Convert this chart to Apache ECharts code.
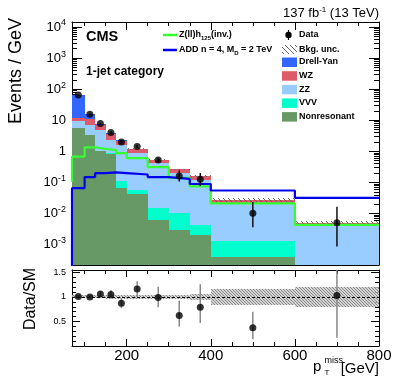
<!DOCTYPE html>
<html><head><meta charset="utf-8">
<script src="https://cdn.jsdelivr.net/npm/echarts@6/dist/echarts.min.js"></script>
<style>html,body{margin:0;padding:0;background:#fff}#c{width:399px;height:379px}</style>
</head><body><div id="c"></div>
<script>
// ---------------- data ----------------
const binEdges    = [70,100,125,150,175,200,250,300,350,400,600,800];
const dataVals    = [64.5,15.6,7.8,4.0,2.0,1.42,0.53,0.162,0.126,0.0102,0.0050];
const dataLo      = [62.5,14.8,7.3,3.6,1.75,1.25,0.45,0.107,0.076,0.0036,0.00087];
const dataHi      = [66.5,16.4,8.3,4.4,2.3,1.6,0.62,0.245,0.200,0.0234,0.0166];
const nonresonant = [5.8,3.4,1.0,0.85,0.065,0.043,0.0062,0.0029,0.0020,0.0004,0.00001];
const vvv         = [0.03,0.03,0.03,0.03,0.042,0.015,0.0086,0.0074,0.0023,0.00086,0.0001];
const zz          = [3.97,3.67,3.77,1.52,1.49,0.85,0.405,0.19,0.111,0.0201,0.0042];
const wz          = [1.8,3.6,2.2,1.2,0.6,0.29,0.11,0.06,0.04,0.0056,0.0005];
const drellYan    = [52.4,4.9,0.4,0.2,0.1,0.02,0.005,0.002,0.005,0.0006,0.0001];
const bkgRelUnc   = [0.03,0.03,0.03,0.035,0.035,0.04,0.045,0.05,0.06,0.155,0.21];
const zhSignal    = [0.68,1.35,1.2,1.1,0.87,0.60,0.31,0.14,0.074,0.021,0.0043];
const zhUnderflow = 0.105;
const addSignal   = [0.065,0.148,0.20,0.21,0.20,0.18,0.148,0.13,0.089,0.055,0.032];
const addUnderflow = 0.00001;
const ratioVals   = [1.01,1.00,1.06,1.05,0.87,1.16,0.99,0.62,0.79,0.37,1.03];
const ratioLo     = [0.99,0.97,1.01,0.97,0.77,1.00,0.79,0.40,0.47,0.14,0.17];
const ratioHi     = [1.03,1.03,1.11,1.14,0.97,1.32,1.21,0.93,1.26,0.70,1.90];
const xTickLabels = [200,400,600,800];
const xMajorTicks = [200,400,600];
const xMinorTicks = [100,150,250,300,350,450,500,550,650,700,750];
const ratioLabels = [0.5,1,1.5];
const ratioMajor  = [0,0.5,1,1.5];

// ---------------- setup ----------------
const F = 'Liberation Sans, Arial, Helvetica, sans-serif';
const yMin = 2.2e-4, yMax = 1.45e4;
const N = dataVals.length;
const centers = binEdges.slice(0,-1).map((e,i)=>(e+binEdges[i+1])/2);

function makePattern(size, color, lw, bg){
  const c = document.createElement('canvas'); c.width = size; c.height = size;
  const ctx = c.getContext('2d');
  if (bg){ ctx.fillStyle = bg; ctx.fillRect(0,0,size,size); }
  ctx.strokeStyle = color; ctx.lineWidth = lw;
  ctx.beginPath();
  for (let k=-1;k<=1;k++){ ctx.moveTo(k*size,0); ctx.lineTo(k*size+size,size); }
  ctx.stroke();
  return {image:c, repeat:'repeat'};
}
const hatchMain = makePattern(5,'rgba(90,90,90,0.9)',1);
const hatchRatio = makePattern(3,'rgba(130,130,130,0.9)',1,'rgba(200,200,200,0.8)');

function clipRect(cs){ return {x:cs.x,y:cs.y,width:cs.width,height:cs.height}; }
function makeBoxes(name, rows, fill, xi, yi, z){
  return {type:'custom', name, xAxisIndex:xi, yAxisIndex:yi, z:z, silent:true, animation:false,
    data: rows, encode:{x:[0,1], y:[2,3]},
    renderItem(params, api){
      const a = api.coord([api.value(0), api.value(3)]);
      const b = api.coord([api.value(1), api.value(2)]);
      const x0 = Math.round(Math.min(a[0],b[0])), x1 = Math.round(Math.max(a[0],b[0]));
      const y0 = Math.round(Math.min(a[1],b[1])), y1 = Math.round(Math.max(a[1],b[1]));
      const shape = echarts.graphic.clipRectByRect({x:x0,y:y0,width:x1-x0,height:y1-y0}, clipRect(params.coordSys));
      if (!shape || shape.height <= 0) return null;
      return {type:'rect', shape, style:{fill}};
    }};
}
function makeErr(name, rows, color, width, xi, yi, z){
  return {type:'custom', name, xAxisIndex:xi, yAxisIndex:yi, z:z, silent:true, animation:false,
    data: rows, encode:{x:0, y:[1,2]},
    renderItem(params, api){
      const p1 = api.coord([api.value(0), api.value(1)]);
      const p2 = api.coord([api.value(0), api.value(2)]);
      const pts = echarts.graphic.clipPointsByRect([p1,p2], clipRect(params.coordSys));
      return {type:'line', shape:{x1:pts[0][0],y1:pts[0][1],x2:pts[1][0],y2:pts[1][1]}, style:{stroke:color, lineWidth:width}};
    }};
}

const stackDef = [
  {name:'Nonresonant', vals:nonresonant, color:'#669966'},
  {name:'VVV', vals:vvv, color:'#00ffcc'},
  {name:'ZZ', vals:zz, color:'#99ccff'},
  {name:'WZ', vals:wz, color:'#de5a6a'},
  {name:'Drell-Yan', vals:drellYan, color:'#3366ff'}
];
const cum = new Array(N).fill(0);
const series = [];
stackDef.forEach((c,k)=>{
  const rows = [];
  for (let i=0;i<N;i++){
    const lo = cum[i], hi = cum[i] + c.vals[i];
    rows.push([binEdges[i], binEdges[i+1], Math.max(lo, yMin*0.5), hi]);
    cum[i] = hi;
  }
  series.push(makeBoxes(c.name, rows, c.color, 0, 0, 2+k*0.01));
});
const total = cum.slice();
series.push(makeBoxes('Bkg. unc.', total.map((t,i)=>[binEdges[i],binEdges[i+1],t*(1-bkgRelUnc[i]),t*(1+bkgRelUnc[i])]), hatchMain, 0, 0, 3));

function stepData(under, vals){
  const d = [[binEdges[0], under]];
  vals.forEach((v,i)=>d.push([binEdges[i], v]));
  d.push([binEdges[N], vals[N-1]]);
  return d;
}
series.push({type:'line', name:'Zh', xAxisIndex:0, yAxisIndex:0, step:'end', data:stepData(zhUnderflow, zhSignal),
  symbol:'none', lineStyle:{color:'#33ff33', width:2.2}, z:5, clip:true, animation:false, silent:true});
series.push({type:'line', name:'ADD', xAxisIndex:0, yAxisIndex:0, step:'end', data:stepData(addUnderflow, addSignal),
  symbol:'none', lineStyle:{color:'#0000ee', width:2.2}, z:5, clip:true, animation:false, silent:true});
series.push(makeErr('dataErr', centers.map((c,i)=>[c,dataLo[i],dataHi[i]]), '#111', 1.5, 0, 0, 9));
series.push({type:'scatter', name:'Data', xAxisIndex:0, yAxisIndex:0, data:centers.map((c,i)=>[c,dataVals[i]]),
  symbolSize:7, itemStyle:{color:'#000'}, z:10, animation:false, silent:true});

// ratio panel
series.push(Object.assign(makeBoxes('ratioBand', bkgRelUnc.map((u,i)=>[binEdges[i],binEdges[i+1],1-u,1+u]), hatchRatio, 4, 4, 2), {
  markLine:{silent:true, symbol:'none', animation:false, data:[{yAxis:1}], label:{show:false},
    lineStyle:{type:[3,2], color:'#000', width:1}}
}));
series.push(makeErr('ratioErr', centers.map((c,i)=>[c,ratioLo[i],ratioHi[i]]), '#888', 1.5, 4, 4, 9));
series.push({type:'scatter', name:'ratio', xAxisIndex:4, yAxisIndex:4, data:centers.map((c,i)=>[c,ratioVals[i]]),
  symbolSize:7, itemStyle:{color:'#000'}, z:10, animation:false, silent:true});

// ---------------- axes ----------------
function xAx(grid, pos, vals, len, line, labels){
  return {type:'value', gridIndex:grid, position:pos, min:70, max:800,
    axisLine:{show:line, onZero:false, lineStyle:{color:'#000', width:1}},
    axisTick:{show:true, inside:true, length:len, customValues:vals, lineStyle:{color:'#000', width:1}},
    axisLabel: labels ? {show:true, customValues:labels, fontSize:15, fontFamily:F, color:'#000', margin:2}
                      : {show:false, customValues:vals},
    splitLine:{show:false}};
}
const logMinor = [];
for (let n=-4;n<=4;n++) for (let k=2;k<=9;k++){ const v=k*Math.pow(10,n); if (v>yMin && v<yMax) logMinor.push(Math.log10(v)); }
const ratioMinor = [];
for (let v=0.1; v<1.55; v+=0.1){ const r=Math.round(v*10)/10; if (Math.abs(r*2-Math.round(r*2))>1e-6) ratioMinor.push(r); }

function logLabel(v){
  const e = Math.log10(v), r = Math.round(e);
  if (Math.abs(e-r) > 1e-6) return '';
  if (r === 0) return '{b|1}';
  if (r === 1) return '{b|10}';
  return '{b|10}{s|' + r + '}';
}
const lineBlack = {show:true, onZero:false, lineStyle:{color:'#000', width:1}};
const yAxes = [
  {type:'log', gridIndex:0, position:'left', min:yMin, max:yMax, logBase:10, axisLine:lineBlack,
   axisTick:{inside:true, length:10, lineStyle:{color:'#000'}},
   axisLabel:{formatter:logLabel, margin:6, showMinLabel:false, showMaxLabel:false,
     rich:{b:{fontSize:13, fontFamily:F, color:'#000', lineHeight:14},
           s:{fontSize:9, fontFamily:F, color:'#000', lineHeight:9, padding:[0,0,8,0]}}},
   splitLine:{show:false}},
  {type:'log', gridIndex:0, position:'right', min:yMin, max:yMax, logBase:10, axisLine:lineBlack,
   axisTick:{inside:true, length:10, lineStyle:{color:'#000'}}, axisLabel:{show:false}, splitLine:{show:false}},
  {type:'value', gridIndex:0, position:'left', min:Math.log10(yMin), max:Math.log10(yMax), axisLine:{show:false, onZero:false},
   axisTick:{inside:true, length:5, customValues:logMinor, lineStyle:{color:'#000'}}, axisLabel:{show:false, customValues:logMinor}, splitLine:{show:false}},
  {type:'value', gridIndex:0, position:'right', min:Math.log10(yMin), max:Math.log10(yMax), axisLine:{show:false, onZero:false},
   axisTick:{inside:true, length:5, customValues:logMinor, lineStyle:{color:'#000'}}, axisLabel:{show:false, customValues:logMinor}, splitLine:{show:false}},
  {type:'value', gridIndex:1, position:'left', min:0, max:1.55, axisLine:lineBlack,
   axisTick:{inside:true, length:8, customValues:ratioMajor, lineStyle:{color:'#000'}},
   axisLabel:{customValues:ratioLabels, fontSize:9, fontFamily:F, color:'#000', margin:6}, splitLine:{show:false}},
  {type:'value', gridIndex:1, position:'right', min:0, max:1.55, axisLine:lineBlack,
   axisTick:{inside:true, length:8, customValues:ratioMajor, lineStyle:{color:'#000'}},
   axisLabel:{show:false, customValues:ratioMajor}, splitLine:{show:false}},
  {type:'value', gridIndex:1, position:'left', min:0, max:1.55, axisLine:{show:false, onZero:false},
   axisTick:{inside:true, length:4, customValues:ratioMinor, lineStyle:{color:'#000'}},
   axisLabel:{show:false, customValues:ratioMinor}, splitLine:{show:false}},
  {type:'value', gridIndex:1, position:'right', min:0, max:1.55, axisLine:{show:false, onZero:false},
   axisTick:{inside:true, length:4, customValues:ratioMinor, lineStyle:{color:'#000'}},
   axisLabel:{show:false, customValues:ratioMinor}, splitLine:{show:false}}
];
const xAxes = [
  xAx(0,'bottom',xMajorTicks,8,true,null),
  xAx(0,'bottom',xMinorTicks,4,false,null),
  xAx(0,'top',xMajorTicks,8,true,null),
  xAx(0,'top',xMinorTicks,4,false,null),
  xAx(1,'bottom',xMajorTicks,7,true,xTickLabels),
  xAx(1,'bottom',xMinorTicks,4,false,null),
  xAx(1,'top',xMajorTicks,7,true,null),
  xAx(1,'top',xMinorTicks,4,false,null)
];

// ---------------- text & legend ----------------
function txt(x,y,text,font,align,extra){
  return Object.assign({type:'text', x, y, silent:true, z:100,
    style:{text, font, fill:'#000', align:align||'left', verticalAlign:'middle', textAlign:align||'left', textVerticalAlign:'middle'}}, extra||{});
}
const bold9 = 'bold 9px ' + F;
const richLeg = {n:{font:bold9, lineHeight:10}, sub:{font:'bold 6px '+F, lineHeight:6, padding:[6,0,0,0]}};
const legendBoxes = [
  ['Drell-Yan','#3366ff',62],['WZ','#de5a6a',75.7],['ZZ','#99ccff',89.3],['VVV','#00ffcc',102.9],['Nonresonant','#669966',116.6]
];
const graphics = [
  {type:'text', x:379, y:13, silent:true, z:100, style:{text:'{n|137 fb}{s|-1}{n| (13 TeV)}', align:'right', verticalAlign:'middle', fill:'#000',
     rich:{n:{fontSize:13, fontFamily:F, lineHeight:14, fill:'#000'}, s:{fontSize:8, fontFamily:F, lineHeight:8, padding:[0,0,7,0], fill:'#000'}}}},
  txt(86,37,'CMS','bold 14.5px '+F),
  txt(86,72,'1-jet category','bold 12px '+F),
  {type:'text', x:16.5, y:71, rotation:Math.PI/2, silent:true, z:100,
   style:{text:'Events / GeV', font:'18px '+F, fill:'#000', align:'center', verticalAlign:'middle'}},
  {type:'text', x:30.5, y:299, rotation:Math.PI/2, silent:true, z:100,
   style:{text:'Data/SM', font:'16px '+F, fill:'#000', align:'center', verticalAlign:'middle'}},
  txt(313,367,'p','15px '+F),
  txt(324.5,360.5,'miss','9px '+F),
  txt(324.5,373,'T','8px '+F),
  txt(379,369,'[GeV]','15px '+F,'right'),
  // legend – lines
  {type:'line', silent:true, z:100, shape:{x1:163,y1:35,x2:177,y2:35}, style:{stroke:'#33ff33', lineWidth:2.5}},
  {type:'line', silent:true, z:100, shape:{x1:163,y1:50,x2:177,y2:50}, style:{stroke:'#0000ee', lineWidth:2.5}},
  {type:'text', x:179, y:35, silent:true, z:100, style:{text:'{n|Z(ll)h}{sub|125}{n|(inv.)}', rich:richLeg, fill:'#000', align:'left', verticalAlign:'middle'}},
  {type:'text', x:179, y:50, silent:true, z:100, style:{text:'{n|ADD n = 4, M}{sub|D}{n| = 2 TeV}', rich:richLeg, fill:'#000', align:'left', verticalAlign:'middle'}},
  // legend – data
  {type:'line', silent:true, z:100, shape:{x1:288.5,y1:30,x2:288.5,y2:40}, style:{stroke:'#000', lineWidth:1.2}},
  {type:'circle', silent:true, z:100, shape:{cx:288.5,cy:35,r:3.2}, style:{fill:'#000'}},
  txt(299,35,'Data',bold9),
  {type:'rect', silent:true, z:100, shape:{x:282,y:45,width:15,height:9}, style:{fill:hatchMain}},
  txt(299,49.5,'Bkg. unc.',bold9)
];
legendBoxes.forEach(([name,color,yc])=>{
  graphics.push({type:'rect', silent:true, z:100, shape:{x:282,y:yc-4.5,width:15,height:9.5}, style:{fill:color}});
  graphics.push(txt(299,yc,name,bold9));
});

const chart = echarts.init(document.getElementById('c'), null, {renderer:'canvas'});
chart.setOption({
  animation:false,
  backgroundColor:'#fff',
  grid:[{left:72, top:22, width:307, height:243}, {left:72, top:270, width:307, height:76}],
  xAxis:xAxes, yAxis:yAxes, series, graphic:{elements:graphics}
});
</script></body></html>
